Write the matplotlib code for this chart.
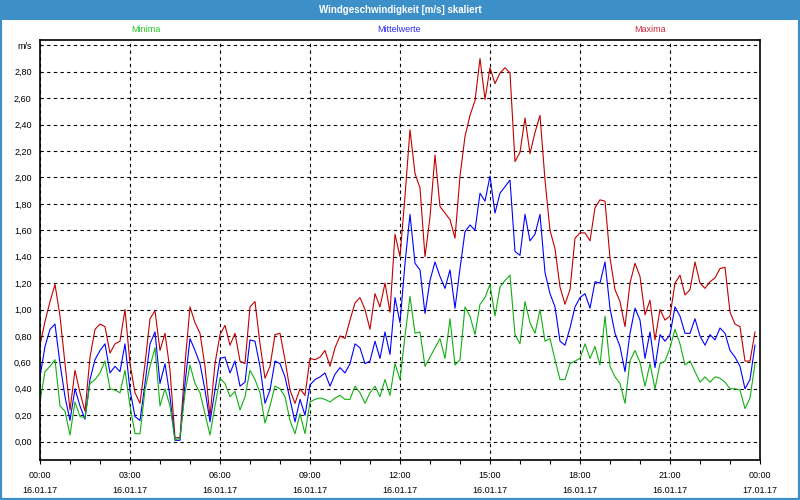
import matplotlib
matplotlib.use("Agg")
import matplotlib.pyplot as plt
import numpy as np
from matplotlib.patches import Rectangle
from matplotlib.ticker import MultipleLocator

plt.rcParams['font.family'] = ['Liberation Sans', 'DejaVu Sans']

# 10-minute values, 16.01.17 00:00 .. 23:50
maxima = [0.73, 0.91, 1.06, 1.19, 0.95, 0.59, 0.24, 0.54, 0.37, 0.23, 0.64, 0.85, 0.89, 0.87, 0.67, 0.74,
          0.76, 1.00, 0.59, 0.37, 0.29, 0.59, 0.93, 0.99, 0.69,
          0.82, 0.54, 0.03, 0.03, 0.59, 1.02, 0.90, 0.82, 0.57, 0.19, 0.59, 0.81, 0.88, 0.73, 0.82, 0.61,
          0.59, 1.02, 1.06, 0.74, 0.48, 0.57, 0.81, 0.82,
          0.62, 0.39, 0.29, 0.40, 0.35, 0.63, 0.62, 0.64, 0.69, 0.57, 0.71, 0.80, 0.78, 0.92, 1.05, 1.09,
          1.00, 0.85, 1.12, 1.02, 1.20, 0.98, 1.57, 1.40,
          1.86, 2.36, 2.03, 1.92, 1.40, 1.70, 2.17, 1.78, 1.73, 1.68, 1.54, 2.01, 2.31, 2.47, 2.58, 2.90,
          2.59, 2.83, 2.71, 2.79, 2.83, 2.79, 2.12, 2.19,
          2.45, 2.18, 2.34, 2.47, 1.98, 1.60, 1.46, 1.17, 1.04, 1.15, 1.54, 1.58, 1.58, 1.52, 1.77, 1.83,
          1.82, 1.39, 1.15, 1.06, 0.87, 1.20, 1.35, 1.25,
          0.96, 1.07, 0.77, 1.00, 0.92, 0.95, 1.20, 1.26, 1.11, 1.15, 1.36, 1.20, 1.16, 1.21, 1.24, 1.31,
          1.32, 0.98, 0.89, 0.87, 0.61, 0.61, 0.83]

mittel = [0.49, 0.72, 0.85, 0.89, 0.59, 0.34, 0.16, 0.40, 0.27, 0.17, 0.47, 0.62, 0.69, 0.74, 0.52, 0.57,
          0.53, 0.74, 0.39, 0.19, 0.16, 0.44, 0.74, 0.83, 0.44,
          0.59, 0.34, 0.01, 0.01, 0.44, 0.78, 0.69, 0.59, 0.39, 0.15, 0.39, 0.63, 0.64, 0.52, 0.61, 0.42,
          0.45, 0.77, 0.76, 0.57, 0.29, 0.39, 0.61, 0.59,
          0.49, 0.32, 0.15, 0.32, 0.20, 0.43, 0.47, 0.49, 0.52, 0.42, 0.51, 0.56, 0.52, 0.59, 0.74, 0.71,
          0.59, 0.61, 0.76, 0.63, 0.83, 0.66, 1.09, 0.90,
          1.35, 1.72, 1.35, 1.30, 0.97, 1.22, 1.36, 1.25, 1.16, 1.30, 1.01, 1.31, 1.59, 1.64, 1.60, 1.88,
          1.82, 2.01, 1.73, 1.88, 1.93, 1.98, 1.44, 1.41,
          1.72, 1.52, 1.57, 1.72, 1.28, 1.12, 1.02, 0.76, 0.73, 0.86, 1.02, 1.09, 1.12, 1.01, 1.21, 1.20,
          1.36, 1.01, 0.82, 0.72, 0.53, 0.82, 1.01, 0.92,
          0.63, 0.83, 0.56, 0.81, 0.76, 0.81, 1.02, 0.95, 0.82, 0.82, 0.93, 0.80, 0.73, 0.81, 0.77, 0.86,
          0.82, 0.69, 0.64, 0.57, 0.40, 0.47, 0.73]

minima = [0.30, 0.53, 0.57, 0.62, 0.27, 0.23, 0.05, 0.30, 0.19, 0.18, 0.44, 0.47, 0.52, 0.61, 0.40, 0.39,
          0.37, 0.54, 0.27, 0.06, 0.06, 0.39, 0.57, 0.71, 0.27,
          0.40, 0.27, 0.01, 0.03, 0.37, 0.58, 0.44, 0.37, 0.21, 0.05, 0.27, 0.48, 0.44, 0.34, 0.38, 0.24,
          0.34, 0.54, 0.47, 0.37, 0.14, 0.27, 0.42, 0.40,
          0.34, 0.16, 0.06, 0.21, 0.06, 0.30, 0.32, 0.33, 0.32, 0.30, 0.33, 0.35, 0.32, 0.32, 0.42, 0.37,
          0.29, 0.37, 0.42, 0.34, 0.47, 0.35, 0.59, 0.47,
          0.80, 1.10, 0.82, 0.83, 0.57, 0.64, 0.71, 0.78, 0.63, 0.93, 0.58, 0.62, 1.02, 0.95, 0.81, 1.04,
          1.09, 1.19, 0.95, 1.17, 1.22, 1.26, 0.81, 0.74,
          1.06, 0.90, 0.82, 1.00, 0.76, 0.78, 0.62, 0.47, 0.47, 0.59, 0.61, 0.63, 0.74, 0.63, 0.72, 0.58,
          0.95, 0.57, 0.49, 0.44, 0.29, 0.61, 0.69, 0.60,
          0.42, 0.59, 0.40, 0.59, 0.61, 0.71, 0.85, 0.74, 0.58, 0.61, 0.53, 0.45, 0.49, 0.45, 0.49, 0.48,
          0.45, 0.40, 0.40, 0.39, 0.25, 0.33, 0.59]

hours = np.arange(len(maxima)) / 6.0

x_ticks = [0, 3, 6, 9, 12, 15, 18, 21, 24]
x_labels = ["00:00\n16.01.17", "03:00\n16.01.17", "06:00\n16.01.17", "09:00\n16.01.17",
            "12:00\n16.01.17", "15:00\n16.01.17", "18:00\n16.01.17", "21:00\n16.01.17",
            "00:00\n17.01.17"]
y_ticks = [0.0, 0.2, 0.4, 0.6, 0.8, 1.0, 1.2, 1.4, 1.6, 1.8, 2.0, 2.2, 2.4, 2.6, 2.8, 3.0]
y_labels = ["0,00", "0,20", "0,40", "0,60", "0,80", "1,00", "1,20", "1,40", "1,60", "1,80",
            "2,00", "2,20", "2,40", "2,60", "2,80", "m/s"]

frame_blue = '#3d8fc7'

fig = plt.figure(figsize=(8, 5), dpi=100)
fig.patch.set_facecolor('white')

# title band and window frame
fig.patches.append(Rectangle((0, 0.96), 1, 0.04, transform=fig.transFigure,
                             facecolor=frame_blue, edgecolor='none', zorder=0))
fig.patches.append(Rectangle((0, 0), 1, 1, transform=fig.transFigure, fill=False,
                             edgecolor=frame_blue, lw=3, zorder=0))
fig.text(0.5, 0.98, "Windgeschwindigkeit [m/s] skaliert", ha='center', va='center',
         color='white', fontsize=7, fontweight='bold')

fig.text(0.1825, 0.94, "Minima", ha='center', va='center', color='#22c422', fontsize=6.5)
fig.text(0.499, 0.94, "Mittelwerte", ha='center', va='center', color='#2a2af0', fontsize=6.5)
fig.text(0.8125, 0.94, "Maxima", ha='center', va='center', color='#c8283c', fontsize=6.5)

ax = fig.add_axes([0.05, 0.08, 0.90, 0.84])
ax.plot(hours, maxima, color='#c00000', lw=0.8)
ax.plot(hours, mittel, color='#0000ff', lw=0.8)
ax.plot(hours, minima, color='#10b010', lw=0.8)

ax.set_xlim(0, 24)
ax.set_ylim(-0.139, 3.04)
ax.set_xticks(x_ticks)
ax.set_xticklabels(x_labels, fontsize=6.5, linespacing=1.9)
ax.xaxis.set_minor_locator(MultipleLocator(1))
ax.set_yticks(y_ticks)
ax.set_yticklabels(y_labels, fontsize=6.5)

ax.grid(True, which='major', color='black', linestyle=(0, (3, 3)), linewidth=0.8)
ax.tick_params(axis='x', which='both', direction='out', length=3, width=0.8, pad=5)
ax.tick_params(axis='y', length=0, pad=6)
for sp in ax.spines.values():
    sp.set_color('black')
    sp.set_linewidth(1.2)

fig.savefig("out.png", dpi=100)
